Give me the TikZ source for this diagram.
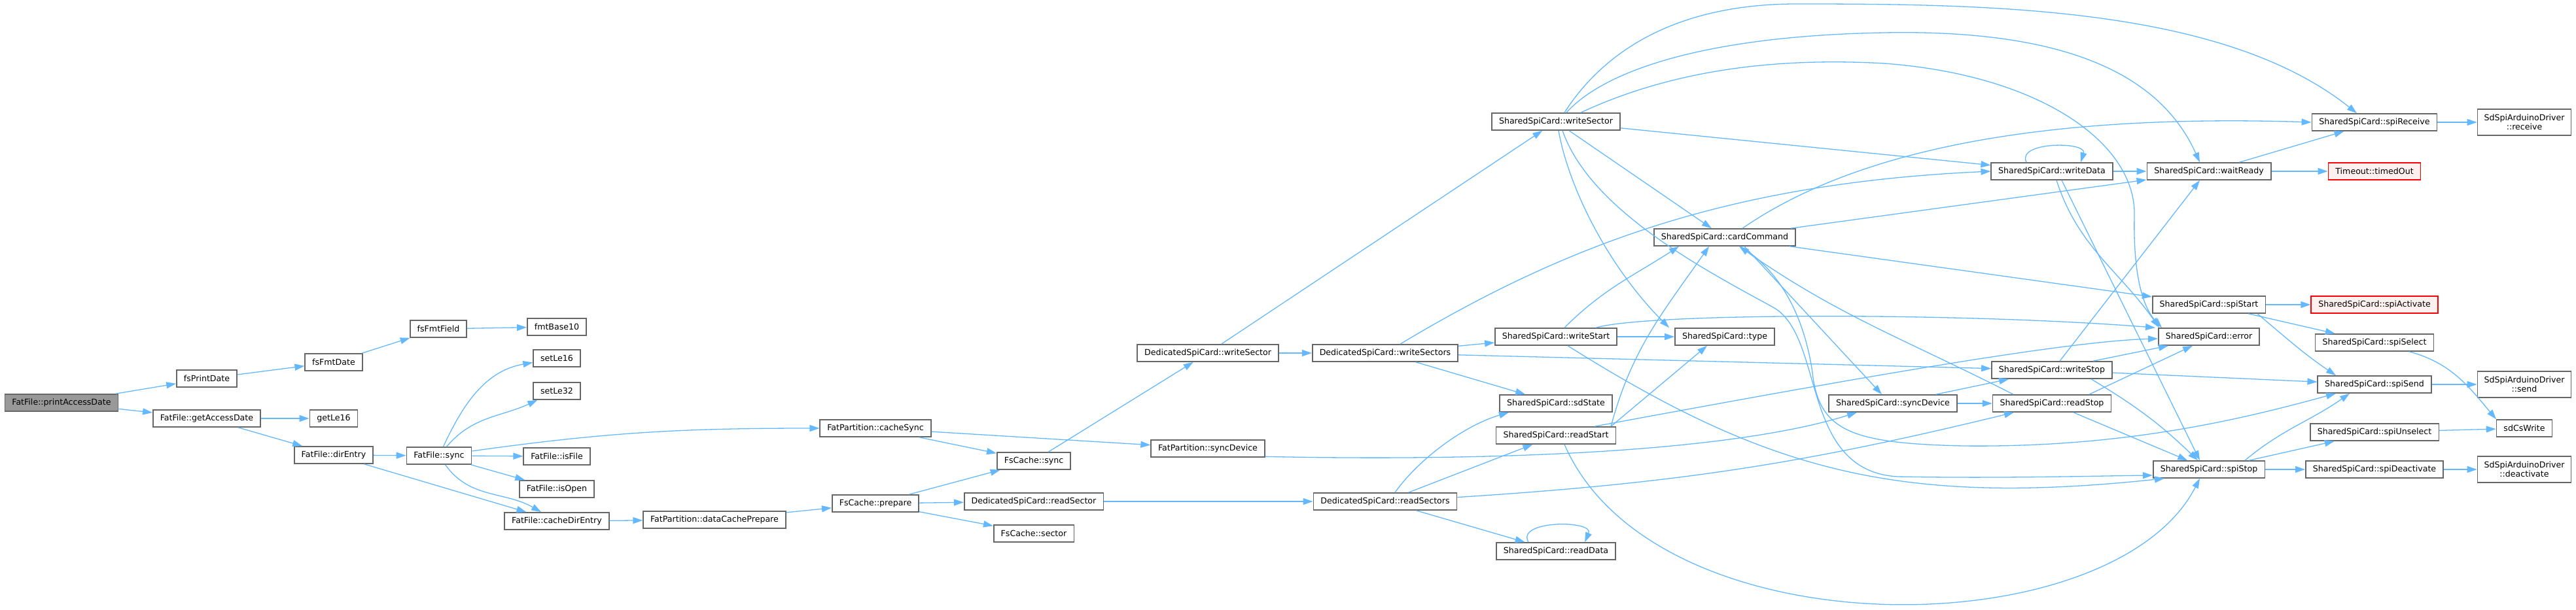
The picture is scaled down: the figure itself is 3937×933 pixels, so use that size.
\documentclass[tikz,border=0pt]{standalone}
\usepackage{fontspec}
\setmainfont{DejaVu Sans}
\definecolor{callcol}{RGB}{99,184,255}
\definecolor{boxcol}{RGB}{102,102,102}
\definecolor{rootcol}{RGB}{153,153,153}
\definecolor{redfill}{RGB}{255,240,240}
\usepackage{tikz}
\usetikzlibrary{arrows.meta}

\begin{document}
\begin{tikzpicture}[x=1pt, y=1pt,
  cnode/.style={draw=boxcol, fill=white, line width=1.6pt, minimum height=26pt, inner xsep=11pt, inner ysep=0pt, font=\fontsize{12.6}{14.5}\selectfont},
  rootnode/.style={cnode, fill=rootcol},
  rednode/.style={cnode, draw=red, fill=redfill},
  drvnode/.style={cnode, align=center, minimum height=40pt, inner xsep=10pt},
  call/.style={draw=callcol, line width=1.3pt, -{Triangle[length=15pt,width=10pt]}}]
\useasboundingbox (0,0) rectangle (3937,-933);

% FatFile side
\node[rootnode] (pad) at (94,-616) {FatFile::printAccessDate};
\node[cnode] (fsPrintDate) at (316,-579) {fsPrintDate};
\node[cnode] (getAccessDate) at (316,-640) {FatFile::getAccessDate};
\node[cnode] (fsFmtDate) at (510,-554) {fsFmtDate};
\node[cnode] (getLe16) at (510,-640) {getLe16};
\node[cnode] (dirEntry) at (510,-696) {FatFile::dirEntry};
\node[cnode] (fsFmtField) at (670,-503) {fsFmtField};
\node[cnode] (sync) at (671,-697) {FatFile::sync};
\node[cnode] (fmtBase10) at (851,-500) {fmtBase10};
\node[cnode] (setLe16) at (851,-548) {setLe16};
\node[cnode] (setLe32) at (851,-598) {setLe32};
\node[cnode] (isFile) at (851,-698) {FatFile::isFile};
\node[cnode] (isOpen) at (851,-748) {FatFile::isOpen};
\node[cnode] (cacheDirEntry) at (851,-797) {FatFile::cacheDirEntry};

% FatPartition / FsCache
\node[cnode] (dataCachePrepare) at (1092,-795) {FatPartition::dataCachePrepare};
\node[cnode] (cacheSync) at (1338,-655) {FatPartition::cacheSync};
\node[cnode] (prepare) at (1338,-770) {FsCache::prepare};
\node[cnode] (fcSync) at (1580,-705) {FsCache::sync};
\node[cnode] (readSector) at (1580,-767) {DedicatedSpiCard::readSector};
\node[cnode] (sector) at (1580,-816) {FsCache::sector};
\node[cnode] (dWriteSector) at (1846,-540) {DedicatedSpiCard::writeSector};
\node[cnode] (fpSyncDevice) at (1846,-686) {FatPartition::syncDevice};
\node[cnode] (writeSectors) at (2117,-540) {DedicatedSpiCard::writeSectors};
\node[cnode] (readSectors) at (2117,-767) {DedicatedSpiCard::readSectors};

% SharedSpiCard
\node[cnode] (sWriteSector) at (2378,-186) {SharedSpiCard::writeSector};
\node[cnode] (writeStart) at (2378,-515) {SharedSpiCard::writeStart};
\node[cnode] (sdState) at (2378,-617) {SharedSpiCard::sdState};
\node[cnode] (readStart) at (2378,-666) {SharedSpiCard::readStart};
\node[cnode] (readData) at (2378,-843) {SharedSpiCard::readData};
\node[cnode] (cardCommand) at (2636,-363) {SharedSpiCard::cardCommand};
\node[cnode] (cardType) at (2636,-515) {SharedSpiCard::type};
\node[cnode] (sSyncDevice) at (2893,-617) {SharedSpiCard::syncDevice};
\node[cnode] (writeData) at (3136,-262) {SharedSpiCard::writeData};
\node[cnode] (writeStop) at (3136,-566) {SharedSpiCard::writeStop};
\node[cnode] (readStop) at (3136,-617) {SharedSpiCard::readStop};
\node[cnode] (waitReady) at (3376,-262) {SharedSpiCard::waitReady};
\node[cnode] (spiStart) at (3376,-466) {SharedSpiCard::spiStart};
\node[cnode] (cardError) at (3376,-515) {SharedSpiCard::error};
\node[cnode] (spiStop) at (3376,-718) {SharedSpiCard::spiStop};
\node[cnode] (spiReceive) at (3629,-187) {SharedSpiCard::spiReceive};
\node[rednode] (timedOut) at (3629,-262) {Timeout::timedOut};
\node[rednode] (spiActivate) at (3629,-466) {SharedSpiCard::spiActivate};
\node[cnode] (spiSelect) at (3629,-524) {SharedSpiCard::spiSelect};
\node[cnode] (spiSend) at (3629,-588) {SharedSpiCard::spiSend};
\node[cnode] (spiUnselect) at (3629,-661) {SharedSpiCard::spiUnselect};
\node[cnode] (spiDeactivate) at (3629,-718) {SharedSpiCard::spiDeactivate};

% driver
\node[drvnode] (drvReceive) at (3858,-187) {SdSpiArduinoDriver\\::receive};
\node[drvnode] (drvSend) at (3858,-588) {SdSpiArduinoDriver\\::send};
\node[cnode] (sdCsWrite) at (3858,-655) {sdCsWrite};
\node[drvnode] (drvDeactivate) at (3858,-718) {SdSpiArduinoDriver\\::deactivate};

% calls, left part
\draw[call] (pad) -- (fsPrintDate);
\draw[call] (pad) -- (getAccessDate);
\draw[call] (fsPrintDate) -- (fsFmtDate);
\draw[call] (fsFmtDate) -- (fsFmtField);
\draw[call] (fsFmtField) -- (fmtBase10);
\draw[call] (getAccessDate) -- (getLe16);
\draw[call] (getAccessDate) -- (dirEntry);
\draw[call] (dirEntry) -- (sync);
\draw[call] (dirEntry) -- (cacheDirEntry);
\draw[call] (sync) to[out=65,in=190] (setLe16);
\draw[call] (sync) to[out=50,in=205] (setLe32);
\draw[call] (sync) to[out=8,in=180] (cacheSync);
\draw[call] (sync) -- (isFile);
\draw[call] (sync) -- (isOpen);
\draw[call] (sync) to[out=-55,in=150] (cacheDirEntry);
\draw[call] (cacheDirEntry) -- (dataCachePrepare);
\draw[call] (dataCachePrepare) -- (prepare);
\draw[call] (cacheSync) -- (fcSync);
\draw[call] (cacheSync) -- (fpSyncDevice);
\draw[call] (prepare) -- (fcSync);
\draw[call] (prepare) -- (readSector);
\draw[call] (prepare) -- (sector);
\draw[call] (fcSync) -- (dWriteSector);
\draw[call] (dWriteSector) -- (writeSectors);
\draw[call] (dWriteSector) -- (sWriteSector);
\draw[call] (readSector) -- (readSectors);
\draw[call] (fpSyncDevice.-8) .. controls (2300,-706) and (2650,-690) .. ([xshift=-55pt]sSyncDevice.south);

% calls, middle part
\draw[call] (writeSectors) -- (writeStart);
\draw[call] (writeSectors) -- (writeStop);
\draw[call] ([xshift=23pt]writeSectors.north) .. controls (2400,-370) and (2650,-280) .. (writeData.west);
\draw[call] (writeSectors) -- (sdState);
\draw[call] ([xshift=15pt]readSectors.north) .. controls (2170,-700) and (2240,-650) .. ([xshift=-72pt]sdState.south);
\draw[call] (readSectors) -- (readStart);
\draw[call] (readSectors) to[bend right=5] (readStop);
\draw[call] (readSectors) -- (readData);
\draw[call] ([xshift=-42pt]readData.north) .. controls +(-20,34) and +(15,34) .. ([xshift=44pt]readData.north);
\draw[call] (writeStart) -- (cardType);
\draw[call] ([xshift=13pt]writeStart.north) to[out=45,in=213] ([xshift=-70pt]cardCommand.south);
\draw[call] ([xshift=61pt]writeStart.north) .. controls (2520,-478) and (3000,-478) .. ([xshift=-82pt]cardError.north);
\draw[call] ([xshift=18pt]writeStart.south) .. controls (2700,-720) and (2900,-775) .. ([xshift=-68pt]spiStop.south);
\draw[call] ([xshift=84pt]readStart.north) -- ([xshift=-27pt]cardType.south);
\draw[call] ([xshift=84pt]readStart.north) to[out=75,in=235] ([xshift=-24pt]cardCommand.south);
\draw[call] ([xshift=59pt]readStart.north) .. controls (2800,-585) and (3150,-522) .. ([yshift=-3pt]cardError.west);
\draw[call] ([xshift=13pt]readStart.south) .. controls (2530,-1000) and (3230,-990) .. ([xshift=-14pt]spiStop.south);

% SharedSpiCard::writeSector
\draw[call] ([xshift=13pt]sWriteSector.north) .. controls (2450,-80) and (2560,-5) .. (2750,-6) .. controls (3050,-6) and (3400,-12) .. ([xshift=-27pt]spiReceive.north);
\draw[call] ([xshift=16pt]sWriteSector.north) .. controls (2450,-110) and (2600,-55) .. (2880,-50) .. controls (3150,-45) and (3300,-110) .. ([xshift=-14pt]waitReady.north);
\draw[call] ([xshift=38pt]sWriteSector.north) .. controls (2560,-105) and (2720,-88) .. (2880,-97) .. controls (3120,-115) and (3265,-220) .. (3262,-330) .. controls (3260,-420) and (3275,-470) .. ([xshift=-72pt]cardError.north);
\draw[call] (sWriteSector) -- (writeData);
\draw[call] (sWriteSector) -- (cardCommand);
\draw[call] ([xshift=4pt]sWriteSector.south) .. controls (2398,-290) and (2460,-410) .. ([xshift=-85pt]cardType.north);
\draw[call] ([xshift=10pt]sWriteSector.south) .. controls (2430,-320) and (2600,-410) .. (2710,-470) .. controls (2790,-515) and (2750,-720) .. (2900,-729) .. controls (3050,-732) and (3200,-728) .. ([yshift=-9pt]spiStop.west);

% cardCommand
\draw[call] ([xshift=27pt]cardCommand.north) .. controls (2850,-220) and (3150,-175) .. (spiReceive.west);
\draw[call] (cardCommand) -- (waitReady);
\draw[call] (cardCommand) -- (spiStart);
\draw[call] ([xshift=30pt]cardCommand.south) -- ([xshift=-17pt]sSyncDevice.north);
\draw[call] ([xshift=24pt]cardCommand.south) .. controls (2730,-420) and (2760,-500) .. (2770,-570) .. controls (2780,-660) and (2830,-678) .. (3000,-682) .. controls (3250,-685) and (3430,-640) .. ([xshift=-59pt]spiSend.south);
\draw[call] (sSyncDevice) -- (readStop);
\draw[call] (sSyncDevice) -- (writeStop);

% writeData, writeStop, readStop
\draw[call] ([xshift=-39pt]writeData.north) .. controls +(-16,32) and +(10,32) .. ([xshift=44pt]writeData.north);
\draw[call] (writeData) -- (waitReady);
\draw[call] ([xshift=7pt]writeData.south) to[out=-72,in=125] ([xshift=-76pt]cardError.north);
\draw[call] ([xshift=15pt]writeData.south) -- ([xshift=-14pt]spiStop.north);
\draw[call] ([xshift=12pt]writeStop.north) -- ([xshift=-14pt]waitReady.south);
\draw[call] ([xshift=63pt]writeStop.north) -- ([xshift=-62pt]cardError.south);
\draw[call] (writeStop) -- (spiSend);
\draw[call] ([xshift=60pt]writeStop.south) to[out=-31,in=136] ([xshift=-17pt]spiStop.north);
\draw[call] ([xshift=57pt]readStop.north) -- ([xshift=-25pt]cardError.south);
\draw[call] (readStop) -- (spiStop);
\draw[call] ([xshift=-59pt]readStop.north) to[out=153,in=-35] ([xshift=22pt]cardCommand.south);

% right part
\draw[call] (waitReady) -- (spiReceive);
\draw[call] (waitReady) -- (timedOut);
\draw[call] (spiReceive) -- (drvReceive);
\draw[call] (spiStart) -- (spiActivate);
\draw[call] (spiStart) -- (spiSelect);
\draw[call] ([xshift=74pt]spiStart.south) to[out=-40,in=146] ([xshift=-59pt]spiSend.north);
\draw[call] ([xshift=53pt]spiSelect.south) to[out=-15,in=130] ([xshift=-43pt]sdCsWrite.north);
\draw[call] (spiUnselect) -- (sdCsWrite);
\draw[call] (spiSend) -- (drvSend);
\draw[call] (spiStop) -- (spiUnselect);
\draw[call] (spiStop) -- (spiDeactivate);
\draw[call] ([xshift=55pt]spiStop.north) to[out=40,in=215] ([xshift=-38pt]spiSend.south);
\draw[call] (spiDeactivate) -- (drvDeactivate);
\end{tikzpicture}
\end{document}
